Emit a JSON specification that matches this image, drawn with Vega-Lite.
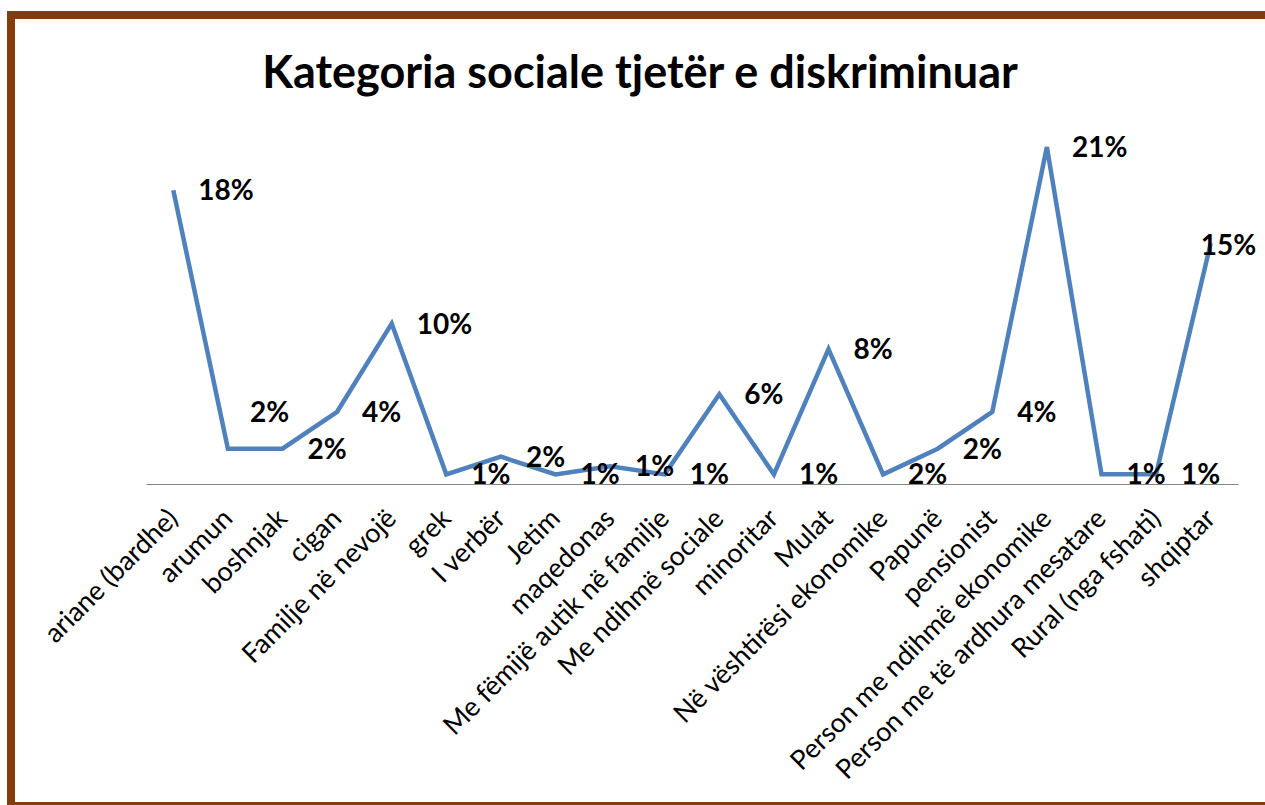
{
  "$schema": "https://vega.github.io/schema/vega-lite/v6.json",
  "autosize": {"type": "none"},
  "padding": {"left": 11, "top": 15, "right": 0, "bottom": 0},
  "width": 1258,
  "height": 791,
  "background": "white",
  "config": {
    "view": {"stroke": "#843C0C", "strokeWidth": 8, "fill": "white"},
    "font": "Lato"
  },
  "title": {
    "text": "Kategoria sociale tjetër e diskriminuar",
    "font": "Lato",
    "fontSize": 45,
    "fontWeight": "bold",
    "color": "#000000",
    "anchor": "middle",
    "frame": "group",
    "offset": -82
  },
  "data": {
    "values": [
      {"kategoria": "ariane (bardhe)", "vlera": 18.3, "etiketa": "18%"},
      {"kategoria": "arumun", "vlera": 2.2, "etiketa": "2%"},
      {"kategoria": "boshnjak", "vlera": 2.2, "etiketa": "2%"},
      {"kategoria": "cigan", "vlera": 4.5, "etiketa": "4%"},
      {"kategoria": "Familje në nevojë", "vlera": 10.0, "etiketa": "10%"},
      {"kategoria": "grek", "vlera": 0.6, "etiketa": "1%"},
      {"kategoria": "I verbër", "vlera": 1.7, "etiketa": "2%"},
      {"kategoria": "Jetim", "vlera": 0.6, "etiketa": "1%"},
      {"kategoria": "maqedonas", "vlera": 1.1, "etiketa": "1%"},
      {"kategoria": "Me fëmijë autik në familje", "vlera": 0.6, "etiketa": "1%"},
      {"kategoria": "Me ndihmë sociale", "vlera": 5.6, "etiketa": "6%"},
      {"kategoria": "minoritar", "vlera": 0.6, "etiketa": "1%"},
      {"kategoria": "Mulat", "vlera": 8.4, "etiketa": "8%"},
      {"kategoria": "Në vështirësi ekonomike", "vlera": 0.6, "etiketa": "2%"},
      {"kategoria": "Papunë", "vlera": 2.2, "etiketa": "2%"},
      {"kategoria": "pensionist", "vlera": 4.5, "etiketa": "4%"},
      {"kategoria": "Person me ndihmë ekonomike", "vlera": 21.0, "etiketa": "21%"},
      {"kategoria": "Person me të ardhura mesatare", "vlera": 0.6, "etiketa": "1%"},
      {"kategoria": "Rural (nga fshati)", "vlera": 0.6, "etiketa": "1%"},
      {"kategoria": "shqiptar", "vlera": 15.0, "etiketa": "15%"}
    ]
  },
  "encoding": {
    "x": {
      "field": "kategoria",
      "type": "nominal",
      "sort": null,
      "scale": {"type": "point", "range": [135, 1227], "padding": 0.5},
      "axis": {
        "title": null,
        "offset": -322,
        "labelAngle": -45,
        "labelAlign": "right",
        "labelBaseline": "middle",
        "labelFont": "Lato",
        "labelFontSize": 27,
        "labelColor": "#000000",
        "labelPadding": 30,
        "labelLimit": 0,
        "labelOverlap": false,
        "ticks": false,
        "domainColor": "#868686",
        "domainWidth": 1,
        "grid": false
      }
    },
    "y": {
      "field": "vlera",
      "type": "quantitative",
      "scale": {"domain": [0, 21], "range": [469, 132], "nice": false, "zero": true},
      "axis": null
    }
  },
  "layer": [
    {
      "mark": {"type": "line", "color": "#4F81BD", "strokeWidth": 4.5, "strokeJoin": "miter"}
    },
    {
      "transform": [{"filter": "datum.kategoria != 'arumun' && datum.kategoria != 'shqiptar'"}],
      "mark": {"type": "text", "font": "Lato", "fontSize": 28, "fontWeight": "bold", "align": "left", "baseline": "middle", "dx": 25, "dy": 2, "color": "#000000"},
      "encoding": {"text": {"field": "etiketa"}}
    },
    {
      "transform": [{"filter": "datum.kategoria == 'arumun'"}],
      "mark": {"type": "text", "font": "Lato", "fontSize": 28, "fontWeight": "bold", "align": "left", "baseline": "middle", "dx": 22, "dy": -35, "color": "#000000"},
      "encoding": {"text": {"field": "etiketa"}}
    },
    {
      "transform": [{"filter": "datum.kategoria == 'shqiptar'"}],
      "mark": {"type": "text", "font": "Lato", "fontSize": 28, "fontWeight": "bold", "align": "left", "baseline": "middle", "dx": -10, "dy": 4, "color": "#000000"},
      "encoding": {"text": {"field": "etiketa"}}
    }
  ]
}
